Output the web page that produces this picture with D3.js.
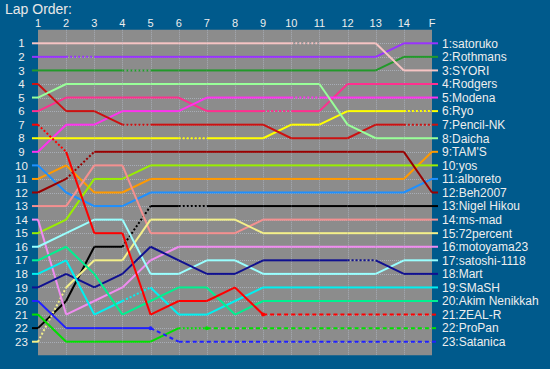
<!DOCTYPE html>
<html><head><meta charset="utf-8">
<script src="https://cdn.jsdelivr.net/npm/d3@7"></script>
<style>body{margin:0;background:#005a8c;} svg{display:block}</style>
</head><body><svg id="c" width="550" height="369"></svg>
<script>
const title = "Lap Order:";
const laps = ["1","2","3","4","5","6","7","8","9","10","11","12","13","14","F"];
const rowLabels = d3.range(1, 24).map(String);
const drivers = ["satoruko","Rothmans","SYORI","Rodgers","Modena","Ryo","Pencil-NK","Daicha","TAM'S","yos","alboreto","Beh2007","Nigel Hikou","ms-mad","72percent","motoyama23","satoshi-1118","Mart","SMaSH","Akim Nenikkah","ZEAL-R","ProPan","Satanica"];
const colors = ["#9933ff","#22992a","#f6c4c4","#ff2f8f","#ff33ee","#ffff00","#cc1111","#99ff99","#ff9900","#99ee00","#1e90ff","#990000","#000000","#f49090","#f4f08a","#f08cf0","#99ffff","#101090","#00f0f0","#00f090","#ff0000","#00e000","#2020ff"];
const positions = [
  [2,2,2,2,2,2,2,2,2,2,2,2,2,1,1],
  [3,3,3,3,3,3,3,3,3,3,3,3,3,2,2],
  [1,1,1,1,1,1,1,1,1,1,1,1,1,3,3],
  [6,5,5,5,5,5,6,6,6,6,6,4,4,4,4],
  [9,7,7,6,6,6,5,5,5,5,5,5,5,5,5],
  [8,8,8,8,8,8,8,8,8,7,7,6,6,6,6],
  [4,6,6,7,7,7,7,7,7,8,8,8,7,7,7],
  [5,4,4,4,4,4,4,4,4,4,4,7,8,8,8],
  [11,10,12,12,11,11,11,11,11,11,11,11,11,11,9],
  [15,14,11,11,10,10,10,10,10,10,10,10,10,10,10],
  [10,12,13,13,12,12,12,12,12,12,12,12,12,12,11],
  [12,11,9,9,9,9,9,9,9,9,9,9,9,9,12],
  [22,20,16,16,13,13,13,13,13,13,13,13,13,13,13],
  [13,13,10,10,15,15,15,15,14,14,14,14,14,14,14],
  [23,19,17,17,14,14,14,14,15,15,15,15,15,15,15],
  [14,21,20,19,17,16,16,16,16,16,16,16,16,16,16],
  [16,15,14,14,18,18,17,17,18,18,18,18,18,17,17],
  [19,18,19,18,16,17,18,18,17,17,17,17,17,18,18],
  [18,17,21,20,19,21,21,20,19,19,19,19,19,19,19],
  [17,16,18,21,20,19,19,21,20,20,20,20,20,20,20],
  [7,9,15,15,21,20,20,19,21,21,21,21,21,21,21],
  [21,23,23,23,23,22,22,22,22,22,22,22,22,22,22],
  [20,22,22,22,22,23,23,23,23,23,23,23,23,23,23]
];
// segment start indices (lap i -> i+1) drawn dotted
const dottedSegs = [[1],[3],[9],[8],[9],[5,13],[3,13],[],[],[],[],[1],[3,5],[],[0],[],[],[11],[3],[],[0],[5],[]];
// lap index after which the driver is out (dashed)
const retiredAt = [null,null,null,null,null,null,null,null,null,null,null,null,null,null,null,null,null,null,null,null,8,6,4];

const svg = d3.select("#c");
const x = d3.scalePoint().domain(laps).range([38, 432]);
const y = d3.scaleLinear().domain([1, 23]).range([43.3, 341.7]);
const rowH = y(2) - y(1);

svg.append("text").attr("x", 5).attr("y", 14).attr("fill", "#e8e8e8")
  .attr("font-family", "Liberation Sans, Arial, sans-serif").attr("font-size", 14).text(title);

svg.append("rect").attr("x", x(laps[0])).attr("y", y(1) - rowH)
  .attr("width", x(laps[14]) - x(laps[0])).attr("height", y(23) - y(1) + 2 * rowH)
  .attr("fill", "#8c8c8c");

const grid = svg.append("g").attr("stroke", "#b4bcc8").attr("stroke-width", 1).attr("stroke-dasharray", "1,1").attr("opacity", 0.7);
grid.selectAll("line.h").data(rowLabels).join("line")
  .attr("x1", x(laps[0])).attr("x2", x(laps[14]))
  .attr("y1", d => Math.round(y(+d)) + 0.5).attr("y2", d => Math.round(y(+d)) + 0.5);
grid.selectAll("line.v").data(laps.slice(1, 14)).join("line")
  .attr("x1", d => Math.round(x(d)) + 0.5).attr("x2", d => Math.round(x(d)) + 0.5)
  .attr("y1", y(1) - rowH).attr("y2", y(23) + rowH);

const font = "Liberation Sans, Arial, sans-serif";
svg.append("g").selectAll("text").data(laps).join("text")
  .attr("x", d => x(d)).attr("y", 27).attr("text-anchor", "middle")
  .attr("fill", "#eeeeee").attr("font-family", font).attr("font-size", 11).text(d => d);
svg.append("g").selectAll("text").data(rowLabels).join("text")
  .attr("x", 21.5).attr("y", d => y(+d)).attr("dy", "0.36em").attr("text-anchor", "middle")
  .attr("fill", "#eeeeee").attr("font-family", font).attr("font-size", 11.5).text(d => d);

const lines = svg.append("g").attr("fill", "none").attr("stroke-width", 2);
drivers.forEach((name, di) => {
  const pos = positions[di];
  const col = colors[di];
  const ret = retiredAt[di];
  const g = lines.append("g").attr("stroke", col);
  const style = i => {
    if (ret !== null && i >= ret) return "4,3";
    if (dottedSegs[di].includes(i)) return "2,2";
    return null;
  };
  g.append("line").attr("x1", x(laps[0]) - 6).attr("x2", x(laps[0]))
    .attr("y1", y(pos[0])).attr("y2", y(pos[0]));
  for (let i = 0; i < laps.length - 1; i++) {
    g.append("line").attr("x1", x(laps[i])).attr("x2", x(laps[i + 1]))
      .attr("y1", y(pos[i])).attr("y2", y(pos[i + 1]))
      .attr("stroke-dasharray", style(i));
  }
  g.append("line").attr("x1", x(laps[14])).attr("x2", x(laps[14]) + 6)
    .attr("y1", y(pos[14])).attr("y2", y(pos[14]))
    .attr("stroke-dasharray", ret !== null ? "4,3" : null);
  if (ret !== null) {
    lines.append("circle").attr("cx", x(laps[ret])).attr("cy", y(pos[ret])).attr("r", 2)
      .attr("fill", col).attr("stroke", "none");
  }
  svg.append("text").attr("x", 442).attr("y", y(pos[14])).attr("dy", "0.36em")
    .attr("fill", "#eeeeee").attr("font-family", font).attr("font-size", 12)
    .text((di + 1) + ":" + name);
});
</script></body></html>
